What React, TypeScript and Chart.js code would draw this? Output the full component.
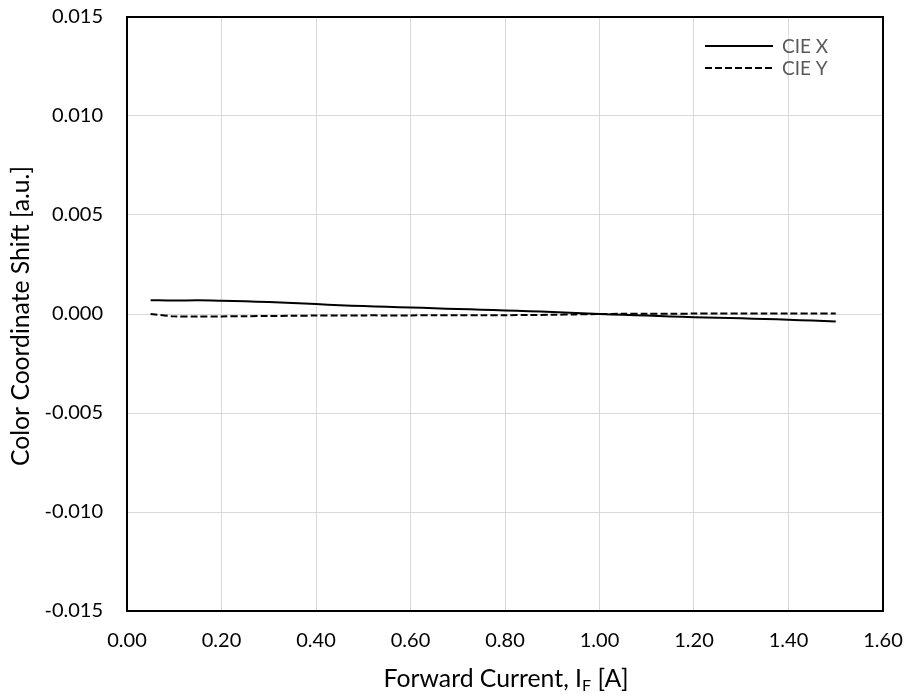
import React, { useEffect, useRef } from "react";
import { Chart, registerables } from "chart.js";

Chart.register(...registerables);

const currents = [0.05, 0.1, 0.15, 0.2, 0.25, 0.3, 0.35, 0.4, 0.45, 0.5, 0.55, 0.6, 0.65, 0.7, 0.75, 0.8, 0.85, 0.9, 0.95, 1.0, 1.05, 1.1, 1.15, 1.2, 1.25, 1.3, 1.35, 1.4, 1.45, 1.5];
const cieX = [0.0007, 0.00068, 0.00069, 0.00067, 0.00064, 0.0006, 0.00055, 0.0005, 0.00044, 0.0004, 0.00036, 0.00033, 0.00029, 0.00025, 0.00022, 0.00018, 0.00014, 0.0001, 0.00005, 0.0, -0.00004, -0.00008, -0.00012, -0.00016, -0.00019, -0.00022, -0.00025, -0.00029, -0.00033, -0.00038];
const cieY = [0.0, -0.00012, -0.00013, -0.00012, -0.00011, -0.0001, -0.00009, -0.00008, -0.00008, -0.00007, -0.00007, -0.00007, -0.00006, -0.00006, -0.00006, -0.00006, -0.00005, -0.00004, -0.00002, 0.0, 0.00001, 0.00001, 0.00001, 0.00002, 0.00002, 0.00002, 0.00002, 0.00003, 0.00003, 0.00003];
const seriesNames = ["CIE X", "CIE Y"];
const yTitle = "Color Coordinate Shift [a.u.]";
const xTitleMain = "Forward Current, I";
const xTitleSub = "F";
const xTitleEnd = " [A]";

const FONT = "Lato, 'Open Sans', sans-serif";

function fitSize(ctx: any, text: string, target: number) {
  ctx.font = `20px ${FONT}`;
  const w = ctx.measureText(text).width;
  return (20 * target) / w;
}

const framePlugin = {
  id: "frame",
  afterDraw(chart: any) {
    const { ctx, chartArea: a } = chart;
    ctx.save();
    ctx.strokeStyle = "#000";
    ctx.lineWidth = 2;
    ctx.setLineDash([]);
    ctx.strokeRect(a.left, a.top, a.right - a.left, a.bottom - a.top);

    // legend
    const lx1 = 705, lx2 = 773;
    const rows = [46, 68];
    chart.data.datasets.forEach((ds: any, i: number) => {
      ctx.beginPath();
      ctx.setLineDash(ds.borderDash || []);
      ctx.lineWidth = 2;
      ctx.strokeStyle = "#000";
      ctx.moveTo(lx1, rows[i]);
      ctx.lineTo(lx2, rows[i]);
      ctx.stroke();
      ctx.setLineDash([]);
      ctx.fillStyle = "#595959";
      ctx.font = `19px ${FONT}`;
      ctx.textBaseline = "middle";
      ctx.textAlign = "left";
      ctx.fillText(ds.label, lx2 + 9, rows[i] + 1);
    });

    // y title
    const ys = fitSize(ctx, yTitle, 300);
    ctx.save();
    ctx.translate(29, 316);
    ctx.rotate(-Math.PI / 2);
    ctx.font = `${ys}px ${FONT}`;
    ctx.fillStyle = "#000";
    ctx.textAlign = "center";
    ctx.textBaseline = "alphabetic";
    ctx.fillText(yTitle, 0, 0);
    ctx.restore();

    // x title with subscript
    ctx.fillStyle = "#000";
    ctx.textBaseline = "alphabetic";
    ctx.textAlign = "left";
    const bs = fitSize(ctx, xTitleMain + xTitleEnd, 236);
    const big = `${bs}px ${FONT}`;
    const small = `${bs * 0.65}px ${FONT}`;
    ctx.font = big;
    const w1 = ctx.measureText(xTitleMain).width;
    const w3 = ctx.measureText(xTitleEnd).width;
    ctx.font = small;
    const w2 = ctx.measureText(xTitleSub).width;
    const total = w1 + w2 + w3;
    let x = 506 - total / 2;
    const base = 687;
    ctx.font = big;
    ctx.fillText(xTitleMain, x, base);
    x += w1;
    ctx.font = small;
    ctx.fillText(xTitleSub, x, base + 4);
    x += w2;
    ctx.font = big;
    ctx.fillText(xTitleEnd, x, base);
    ctx.restore();
  },
};

export default function App() {
  const ref = useRef<HTMLCanvasElement>(null);
  useEffect(() => {
    document.body.style.margin = "0";
    const chart = new Chart(ref.current!, {
      type: "scatter",
      data: {
        datasets: [
          {
            label: seriesNames[0],
            data: currents.map((c, i) => ({ x: c, y: cieX[i] })),
            showLine: true,
            borderColor: "#000",
            borderWidth: 2,
            pointRadius: 0,
            tension: 0.3,
          },
          {
            label: seriesNames[1],
            data: currents.map((c, i) => ({ x: c, y: cieY[i] })),
            showLine: true,
            borderColor: "#000",
            borderWidth: 2,
            borderDash: [7, 3],
            pointRadius: 0,
            tension: 0.3,
          },
        ],
      },
      options: {
        animation: false,
        responsive: false,
        layout: { padding: { left: 0, top: 17, right: 25, bottom: 0 } },
        plugins: { legend: { display: false }, tooltip: { enabled: false } },
        scales: {
          x: {
            type: "linear",
            min: 0,
            max: 1.6,
            afterFit: (s: any) => { s.height = 88; s.paddingLeft = 0; s.paddingRight = 0; },
            grid: { color: "#d9d9d9", lineWidth: 1, drawTicks: false },
            border: { color: "#000", width: 2 },
            ticks: {
              stepSize: 0.2,
              padding: 18,
              color: "#000",
              maxRotation: 0,
              font: { family: FONT, size: 20 },
              callback: (v: any) => Number(v).toFixed(2),
            },
          },
          y: {
            min: -0.015,
            max: 0.015,
            afterFit: (s: any) => { s.width = 127; s.paddingTop = 0; s.paddingBottom = 0; },
            grid: { color: "#d9d9d9", lineWidth: 1, drawTicks: false },
            border: { color: "#000", width: 2 },
            ticks: {
              stepSize: 0.005,
              padding: 24,
              color: "#000",
              font: { family: FONT, size: 20 },
              callback: (v: any) => Number(v).toFixed(3),
            },
          },
        },
      },
      plugins: [framePlugin],
    });
    return () => chart.destroy();
  }, []);
  return (
    <div style={{ width: 908, height: 699 }}>
      <canvas ref={ref} width={908} height={699} style={{ display: "block" }} />
    </div>
  );
}
